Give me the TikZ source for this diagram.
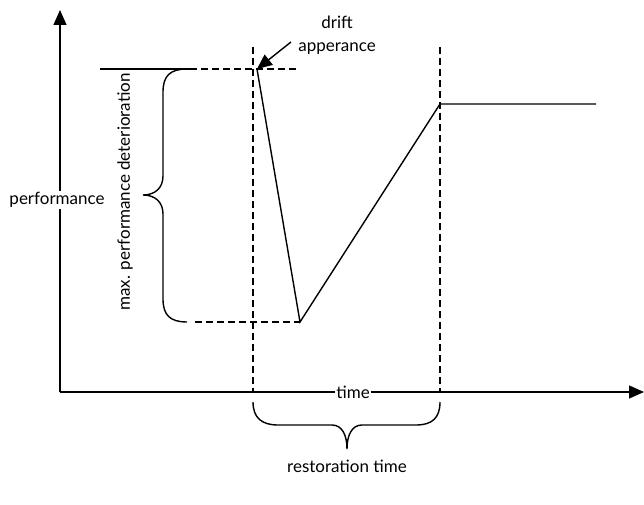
\documentclass[tikz,border=0pt]{standalone}
\usepackage{fontspec}
\setmainfont{Lato}
\usetikzlibrary{arrows.meta}

\begin{document}
\begin{tikzpicture}[x=1pt, y=-1pt, line width=1.4pt, font=\fontsize{17}{23}\selectfont,
	axis/.style={-{Triangle[length=15pt, width=13pt]}},
	guide/.style={dash pattern=on 7pt off 4pt}]
	\useasboundingbox (0, 0) rectangle (644, 505);

	\coordinate (O) at (60, 392);
	\coordinate (Ytip) at (60, 10);
	\coordinate (Xtip) at (644, 392);
	\coordinate (P0) at (100, 69);
	\coordinate (Pb) at (190, 69);
	\coordinate (Drift) at (257, 69);
	\coordinate (Pt) at (297, 69);
	\coordinate (Low) at (300, 322);
	\coordinate (Lb) at (195, 322);
	\coordinate (Rec) at (440, 104);
	\coordinate (Pend) at (596, 104);
	\coordinate (V1t) at (253, 47);
	\coordinate (V1b) at (253, 392);
	\coordinate (V2t) at (440, 47);
	\coordinate (V2b) at (440, 392);
	\coordinate (Tail) at (291, 42);

	% axes
	\draw[axis] (O) -- (Ytip);
	\draw[axis] (O) -- (Xtip);

	% performance curve
	\draw (P0) -- (Pb);
	\draw (Drift) -- (Low) -- (Rec) -- (Pend);

	% guides
	\draw[guide] (Pb) -- (Pt);
	\draw[guide] (Lb) -- (Low);
	\draw[guide] (V1t) -- (V1b);
	\draw[guide] (V2t) -- (V2b);

	% braces
	\draw (187, 69) .. controls (170, 69) and (163, 76) .. (163, 92) -- (163, 176)
		.. controls (163, 188) and (155, 195) .. (143, 195)
		.. controls (155, 195) and (163, 202) .. (163, 214) -- (163, 299)
		.. controls (163, 315) and (170, 322) .. (187, 322);
	\draw (253, 402) .. controls (253, 418) and (262, 425) .. (278, 425) -- (332, 425)
		.. controls (342, 425) and (347, 435) .. (347, 449)
		.. controls (347, 435) and (352, 425) .. (362, 425) -- (416, 425)
		.. controls (432, 425) and (440, 418) .. (440, 402);

	% labels
	\node[fill=white, inner sep=1pt] (perf) at (57, 200) {performance};
	\node[fill=white, inner sep=1pt] (time) at (353, 392) {time};
	\node[rotate=90] (maxdet) at (125, 192) {max. performance deterioration};
	\node (rest) at (347, 466) {restoration time};
	\node[align=center, inner sep=0pt] (drift) at (337, 35) {drift\\apperance};

	\draw[-{Triangle[length=15pt, width=13pt]}] (Tail) -- (Drift);

\end{tikzpicture}
\end{document}
